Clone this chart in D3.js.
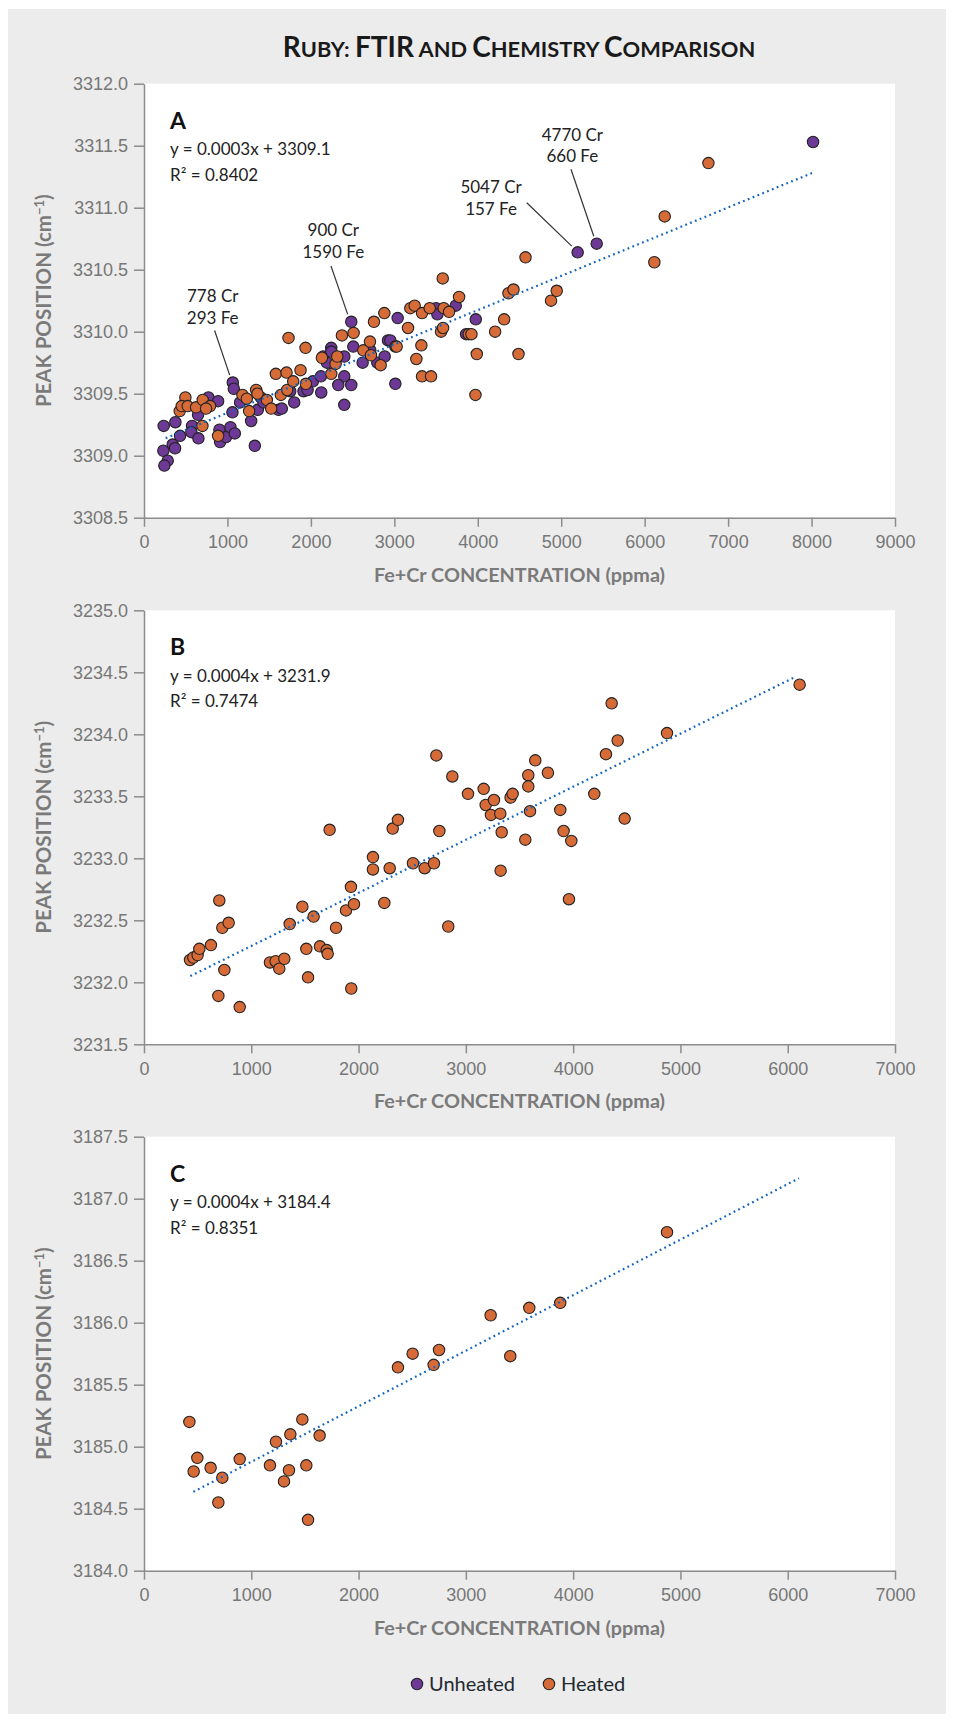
<!DOCTYPE html>
<html>
<head>
<meta charset="utf-8">
<script src="https://cdn.jsdelivr.net/npm/d3@7"></script>
<style>
  body { margin: 0; background: #fff; }
  .tick text { font-family: 'Liberation Sans', Arial, sans-serif; font-size: 18px; fill: #777; }
  .tick line, .domain { stroke: #8c8c8c; stroke-width: 1.5; }
</style>
</head>
<body>
<svg id="chart" width="954" height="1722"></svg>
<script>
// ---- data ----
const aUnheated = [
  [236, 3309.24], [232, 3309.04], [284, 3308.96], [244, 3308.92], [344, 3309.09], [372, 3309.06], [376, 3309.27], [432, 3309.16],
  [576, 3309.24], [568, 3309.19], [652, 3309.14], [648, 3309.33], [772, 3309.47], [888, 3309.44], [904, 3309.21], [912, 3309.11],
  [984, 3309.15], [1036, 3309.23], [1088, 3309.18], [1064, 3309.59], [1076, 3309.54], [1060, 3309.35], [1152, 3309.43], [1284, 3309.28],
  [1328, 3309.08], [1364, 3309.37], [1400, 3309.47], [1432, 3309.43], [1612, 3309.37], [1652, 3309.38], [1752, 3309.52], [1800, 3309.43],
  [1912, 3309.52], [1960, 3309.53], [2024, 3309.60], [2124, 3309.51], [2120, 3309.64], [2148, 3309.80], [2192, 3309.75], [2244, 3309.87],
  [2244, 3309.84], [2400, 3309.80], [2400, 3309.64], [2328, 3309.57], [2400, 3309.41], [2484, 3309.57], [2484, 3310.08], [2508, 3309.88],
  [2620, 3309.75], [2712, 3309.85], [2796, 3309.75], [2884, 3309.80], [2924, 3309.93], [2952, 3309.93], [3012, 3309.88], [3040, 3310.11],
  [3012, 3309.58], [3500, 3310.19], [3516, 3310.14], [3736, 3310.21], [3860, 3309.98], [3976, 3310.10], [5197, 3310.64], [5425, 3310.71],
  [8018, 3311.53]
];
const aHeated = [
  [428, 3309.36], [496, 3309.47], [452, 3309.40], [524, 3309.40], [624, 3309.39], [700, 3309.24], [704, 3309.45], [792, 3309.40],
  [744, 3309.38], [888, 3309.16], [1180, 3309.49], [1232, 3309.46], [1260, 3309.36], [1344, 3309.53], [1360, 3309.50], [1472, 3309.45],
  [1524, 3309.38], [1580, 3309.66], [1640, 3309.49], [1708, 3309.67], [1732, 3309.95], [1716, 3309.53], [1788, 3309.60], [1876, 3309.69],
  [1936, 3309.87], [1940, 3309.58], [2132, 3309.79], [2244, 3309.66], [2296, 3309.74], [2316, 3309.80], [2372, 3309.97], [2512, 3309.99],
  [2628, 3309.85], [2708, 3309.92], [2720, 3309.81], [2756, 3310.08], [2836, 3309.73], [2880, 3310.15], [3028, 3309.88], [3164, 3310.03],
  [3192, 3310.19], [3244, 3310.21], [3264, 3309.78], [3324, 3309.89], [3332, 3310.15], [3332, 3309.64], [3440, 3309.64], [3424, 3310.19],
  [3580, 3310.43], [3560, 3310.00], [3584, 3310.03], [3592, 3310.19], [3656, 3310.16], [3776, 3310.28], [3892, 3309.98], [3924, 3309.98],
  [3988, 3309.82], [3972, 3309.49], [4208, 3310.00], [4316, 3310.10], [4368, 3310.31], [4428, 3310.34], [4488, 3309.82], [4572, 3310.60],
  [4878, 3310.25], [4946, 3310.33], [6116, 3310.56], [6240, 3310.93], [6764, 3311.36]
];
const bHeated = [
  [429, 3232.18], [460, 3232.20], [500, 3232.22], [516, 3232.27], [624, 3232.30], [702, 3232.66], [730, 3232.44], [789, 3232.48],
  [749, 3232.10], [693, 3231.89], [892, 3231.80], [1174, 3232.16], [1227, 3232.17], [1261, 3232.11], [1308, 3232.19], [1358, 3232.47],
  [1476, 3232.61], [1513, 3232.27], [1581, 3232.53], [1529, 3232.04], [1640, 3232.29], [1703, 3232.26], [1712, 3232.23], [1730, 3233.23],
  [1790, 3232.44], [1883, 3232.58], [1929, 3232.77], [1957, 3232.63], [1932, 3231.95], [2134, 3233.01], [2134, 3232.91], [2240, 3232.64],
  [2290, 3232.92], [2318, 3233.24], [2367, 3233.31], [2507, 3232.96], [2616, 3232.92], [2703, 3232.96], [2725, 3233.83], [2753, 3233.22],
  [2836, 3232.45], [2874, 3233.66], [3020, 3233.52], [3166, 3233.56], [3185, 3233.43], [3234, 3233.35], [3262, 3233.47], [3321, 3233.36],
  [3334, 3233.21], [3324, 3232.90], [3417, 3233.49], [3436, 3233.52], [3554, 3233.15], [3582, 3233.67], [3582, 3233.58], [3598, 3233.38],
  [3647, 3233.79], [3765, 3233.69], [3880, 3233.39], [3911, 3233.22], [3983, 3233.14], [3961, 3232.67], [4197, 3233.52], [4306, 3233.84],
  [4359, 3234.25], [4415, 3233.95], [4480, 3233.32], [4875, 3234.01], [6111, 3234.40]
];
const cHeated = [
  [423, 3185.20], [497, 3184.91], [463, 3184.80], [621, 3184.83], [730, 3184.75], [693, 3184.55], [892, 3184.90], [1174, 3184.85],
  [1230, 3185.04], [1305, 3184.72], [1351, 3184.81], [1364, 3185.10], [1476, 3185.22], [1513, 3184.85], [1529, 3184.41], [1637, 3185.09],
  [2367, 3185.64], [2504, 3185.75], [2700, 3185.66], [2750, 3185.78], [3231, 3186.06], [3414, 3185.73], [3591, 3186.12], [3880, 3186.16],
  [4875, 3186.73]
];

// trend lines: slope, intercept, first x, last x
const trendA = [0.000276, 3309.07, 260, 8015];
const trendB = [0.000428, 3231.865, 432, 6080];
const trendC = [0.000448, 3184.43, 460, 6105];

const xTicksA = [0, 1000, 2000, 3000, 4000, 5000, 6000, 7000, 8000, 9000];
const xTicksBC = [0, 1000, 2000, 3000, 4000, 5000, 6000, 7000];
const yTicksA = [3308.5, 3309.0, 3309.5, 3310.0, 3310.5, 3311.0, 3311.5, 3312.0];
const yTicksB = [3231.5, 3232.0, 3232.5, 3233.0, 3233.5, 3234.0, 3234.5, 3235.0];
const yTicksC = [3184.0, 3184.5, 3185.0, 3185.5, 3186.0, 3186.5, 3187.0, 3187.5];

const equations = ['y = 0.0003x + 3309.1', 'y = 0.0004x + 3231.9', 'y = 0.0004x + 3184.4'];
const rSquared = ['R² = 0.8402', 'R² = 0.7474', 'R² = 0.8351'];
const panelLetters = ['A', 'B', 'C'];

// callouts in panel A: text lines, text anchor (x, y), leader start, leader end
const calloutLines = [['778 Cr', '293 Fe'], ['900 Cr', '1590 Fe'], ['5047 Cr', '157 Fe'], ['4770 Cr', '660 Fe']];
const calloutText = [[823, 3310.24], [2269, 3310.77], [4159, 3311.12], [5133, 3311.54]];
const calloutFrom = [[846, 3310.01], [2241, 3310.53], [4587, 3311.04], [5117, 3311.31]];
const calloutTo = [[1027, 3309.65], [2441, 3310.14], [5126, 3310.69], [5390, 3310.77]];

const legendNames = ['Unheated', 'Heated'];
const colUnheated = '#6e3896';
const colHeated = '#d66b38';

const FONT = "Lato, 'Open Sans', sans-serif";

const svg = d3.select('#chart');

svg.append('rect')
  .attr('x', 8).attr('y', 9)
  .attr('width', 938).attr('height', 1705)
  .attr('fill', '#ececec');

// title in small caps
const title = svg.append('text')
  .attr('x', 519).attr('y', 57)
  .attr('text-anchor', 'middle')
  .attr('font-family', FONT)
  .attr('font-weight', 700)
  .attr('fill', '#1a1a1a');
[['R', 28], ['UBY: ', 21.8], ['FTIR', 28], [' AND ', 21.8], ['C', 28], ['HEMISTRY ', 21.8], ['C', 28], ['OMPARISON', 21.8]]
  .forEach(([t, s]) => title.append('tspan').attr('font-size', s).text(t));

const left = 144, right = 895;

function drawPanel(i, top, xMax, yDomain, xTicks, yTicks, series, trend) {
  const bottom = top + 434;
  const x = d3.scaleLinear().domain([0, xMax]).range([left, right]);
  const y = d3.scaleLinear().domain(yDomain).range([bottom, top]);
  const g = svg.append('g');

  g.append('rect')
    .attr('x', left).attr('y', top)
    .attr('width', right - left).attr('height', bottom - top)
    .attr('fill', '#fff');

  g.append('g')
    .attr('transform', `translate(${left},0)`)
    .call(d3.axisLeft(y).tickValues(yTicks).tickSize(10).tickSizeOuter(0).tickPadding(6).tickFormat(d3.format('.1f')));

  g.append('g')
    .attr('transform', `translate(0,${bottom})`)
    .call(d3.axisBottom(x).tickValues(xTicks).tickSize(9).tickSizeOuter(0).tickPadding(9).tickFormat(d3.format('d')));

  // axis titles
  g.append('text')
    .attr('x', (left + right) / 2).attr('y', bottom + 64)
    .attr('text-anchor', 'middle')
    .attr('font-family', FONT).attr('font-weight', 700).attr('font-size', 19.8)
    .attr('fill', '#7a7a7a')
    .text('Fe+Cr CONCENTRATION (ppma)');

  const yt = g.append('text')
    .attr('transform', `translate(51,${(top + bottom) / 2}) rotate(-90)`)
    .attr('text-anchor', 'middle')
    .attr('font-family', FONT).attr('font-weight', 700).attr('font-size', 20.5)
    .attr('fill', '#7a7a7a');
  yt.append('tspan').text('PEAK POSITION (cm');
  yt.append('tspan').attr('font-size', 13).attr('dy', -7).text('−1');
  yt.append('tspan').attr('dy', 7).text(')');

  // panel letter + equation
  g.append('text')
    .attr('x', 170).attr('y', top + 45)
    .attr('font-family', FONT).attr('font-weight', 700).attr('font-size', 23)
    .attr('fill', '#111')
    .text(panelLetters[i]);
  g.append('text')
    .attr('x', 170).attr('y', top + 71.5)
    .attr('font-family', FONT).attr('font-size', 17)
    .attr('fill', '#222')
    .text(equations[i]);
  g.append('text')
    .attr('x', 170).attr('y', top + 97)
    .attr('font-family', FONT).attr('font-size', 17)
    .attr('fill', '#222')
    .text(rSquared[i]);

  // points
  series.forEach(([data, color]) => {
    g.append('g')
      .selectAll('circle')
      .data(data)
      .join('circle')
      .attr('cx', (d) => x(d[0]))
      .attr('cy', (d) => y(d[1]))
      .attr('r', 5.7)
      .attr('fill', color)
      .attr('stroke', '#222')
      .attr('stroke-width', 1.1);
  });

  // trend line
  const [m, c, x0, x1] = trend;
  g.append('path')
    .datum([x0, x1])
    .attr('d', d3.line().x((d) => x(d)).y((d) => y(m * d + c)))
    .attr('fill', 'none')
    .attr('stroke', '#1565c0')
    .attr('stroke-width', 2.2)
    .attr('stroke-dasharray', '1.8 3.4');

  return { g, x, y };
}

const pA = drawPanel(0, 83.7, 9000, [3308.5, 3312], xTicksA, yTicksA, [[aUnheated, colUnheated], [aHeated, colHeated]], trendA);
drawPanel(1, 610.3, 7000, [3231.5, 3235], xTicksBC, yTicksB, [[bHeated, colHeated]], trendB);
drawPanel(2, 1136.7, 7000, [3184, 3187.5], xTicksBC, yTicksC, [[cHeated, colHeated]], trendC);

// callouts on panel A
calloutLines.forEach((lines, i) => {
  const t = pA.g.append('text')
    .attr('text-anchor', 'middle')
    .attr('font-family', FONT).attr('font-size', 17)
    .attr('fill', '#222');
  lines.forEach((l, j) => {
    t.append('tspan')
      .attr('x', pA.x(calloutText[i][0]))
      .attr('y', pA.y(calloutText[i][1]) + j * 21.7)
      .text(l);
  });
  pA.g.append('line')
    .attr('x1', pA.x(calloutFrom[i][0])).attr('y1', pA.y(calloutFrom[i][1]))
    .attr('x2', pA.x(calloutTo[i][0])).attr('y2', pA.y(calloutTo[i][1]))
    .attr('stroke', '#333').attr('stroke-width', 1.2);
});

// legend
const legend = svg.append('g').attr('transform', 'translate(0,1684)');
const legendX = [417, 549];
legendNames.forEach((name, i) => {
  legend.append('circle')
    .attr('cx', legendX[i]).attr('cy', 0).attr('r', 5.7)
    .attr('fill', i === 0 ? colUnheated : colHeated)
    .attr('stroke', '#222').attr('stroke-width', 1.1);
  legend.append('text')
    .attr('x', legendX[i] + 12).attr('y', 7)
    .attr('font-family', FONT).attr('font-size', 20)
    .attr('fill', '#1f2a30')
    .text(name);
});
</script>
</body>
</html>
